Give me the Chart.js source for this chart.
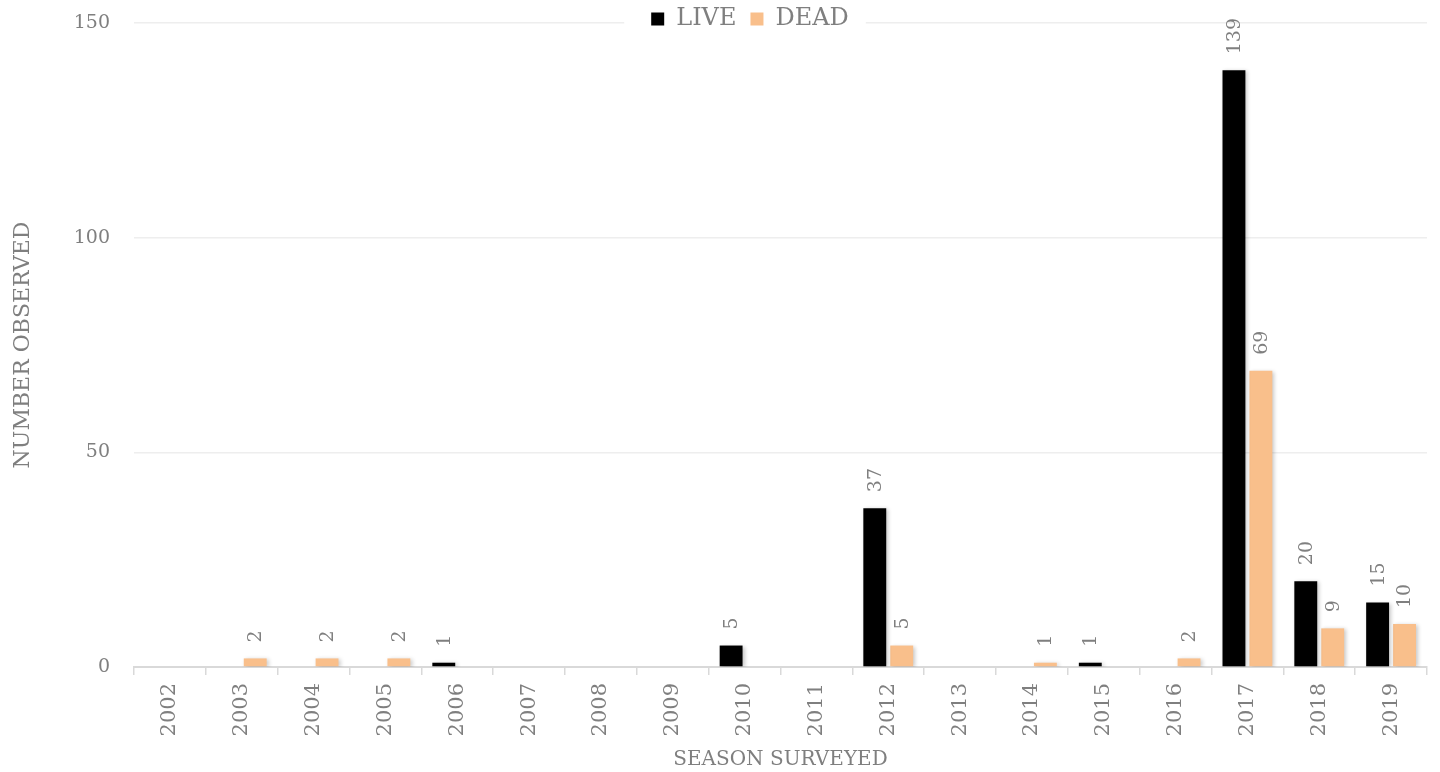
<!DOCTYPE html>
<html>
<head>
<meta charset="utf-8">
<script src="https://cdn.jsdelivr.net/npm/chart.js@4"></script>
<style>
html,body{margin:0;padding:0;background:#fff;}
#wrap{width:1440px;height:772px;position:relative;}
</style>
</head>
<body>
<div id="wrap"><canvas id="c" width="1440" height="772"></canvas></div>
<script>
const categories = ['2002','2003','2004','2005','2006','2007','2008','2009','2010','2011','2012','2013','2014','2015','2016','2017','2018','2019'];
const liveValues = [0,0,0,0,1,0,0,0,5,0,37,0,0,1,0,139,20,15];
const deadValues = [0,2,2,2,0,0,0,0,0,0,5,0,1,0,2,69,9,10];
const yTicks = [0,50,100,150];

const FONT = "'DejaVu Serif', serif";
const GRAY = '#7f7f7f';
const LEGEND_PAD = 14;
const LEGEND_FONT = 24;

const shadowPlugin = {
  id: 'barShadow',
  beforeDatasetDraw(chart) {
    const ctx = chart.ctx;
    ctx.save();
    ctx.shadowColor = 'rgba(0,0,0,0.22)';
    ctx.shadowBlur = 4;
    ctx.shadowOffsetX = 2;
    ctx.shadowOffsetY = 1;
  },
  afterDatasetDraw(chart) {
    chart.ctx.restore();
  }
};

const labelPlugin = {
  id: 'barLabels',
  afterDatasetsDraw(chart) {
    const ctx = chart.ctx;
    ctx.save();
    ctx.font = '19px ' + FONT;
    ctx.fillStyle = GRAY;
    ctx.textAlign = 'left';
    ctx.textBaseline = 'middle';
    chart.data.datasets.forEach((ds, di) => {
      const meta = chart.getDatasetMeta(di);
      meta.data.forEach((el, i) => {
        const v = ds.data[i];
        if (!v) return;
        ctx.save();
        ctx.translate(el.x + 1, el.y - 16);
        ctx.rotate(-Math.PI / 2);
        ctx.fillText(String(v), 0, 0);
        ctx.restore();
      });
    });
    ctx.restore();
  }
};

const legendPlugin = {
  id: 'legendMove',
  afterLayout(chart) {
    const lg = chart.legend;
    if (!lg) return;
    const h = lg.bottom - lg.top;
    const w = lg.right - lg.left;
    lg.top = 19 - LEGEND_PAD - LEGEND_FONT / 2;
    lg.bottom = lg.top + h;
    lg.left = 750 - w / 2;
    lg.right = lg.left + w;
  },
  afterDraw(chart) {
    const lg = chart.legend;
    if (!lg || !lg.lineWidths) return;
    const rowW = lg.lineWidths[0];
    const x0 = (lg.left + LEGEND_PAD + lg.right - rowW) / 2;
    const ctx = chart.ctx;
    ctx.save();
    ctx.fillStyle = '#fff';
    ctx.fillRect(x0 - 27, 4, rowW - LEGEND_PAD + 44, 30);
    ctx.restore();
    lg.draw();
  }
};

const chart = new Chart(document.getElementById('c'), {
  type: 'bar',
  data: {
    labels: categories,
    datasets: [
      { label: 'LIVE', data: liveValues, backgroundColor: '#000000', barPercentage: 0.85, categoryPercentage: 0.75 },
      { label: 'DEAD', data: deadValues, backgroundColor: '#f9bf8b', barPercentage: 0.85, categoryPercentage: 0.75 }
    ]
  },
  options: {
    responsive: false,
    animation: false,
    devicePixelRatio: 1,
    layout: { autoPadding: false, padding: { top: 23, right: 13, left: 0, bottom: 0 } },
    plugins: {
      legend: {
        position: 'chartArea',
        align: 'center',
        labels: {
          color: GRAY,
          font: { family: FONT, size: LEGEND_FONT },
          boxWidth: 13,
          boxHeight: 13,
          padding: LEGEND_PAD
        }
      },
      tooltip: { enabled: false }
    },
    scales: {
      x: {
        grid: { display: true, drawOnChartArea: false, drawTicks: true, tickLength: 8, color: '#d9d9d9', lineWidth: 1.5, offset: true },
        border: { display: true, color: '#d9d9d9', width: 2 },
        ticks: { color: GRAY, font: { family: FONT, size: 21 }, minRotation: 90, maxRotation: 90, padding: 8 },
        title: { display: true, text: 'SEASON SURVEYED', color: GRAY, font: { family: FONT, size: 20 }, padding: { top: 4, bottom: 0 } },
        afterFit(scale) { scale.height = 105; scale.paddingTop = 0; scale.paddingRight = 0; }
      },
      y: {
        min: 0, max: 150,
        afterBuildTicks(scale) { scale.ticks = yTicks.map(v => ({ value: v })); },
        grid: { color: '#eeeeee', lineWidth: 1.5, drawTicks: false },
        border: { display: false },
        ticks: { color: GRAY, font: { family: FONT, size: 19 }, padding: 24 },
        title: { display: true, text: 'NUMBER OBSERVED', color: GRAY, font: { family: FONT, size: 22 }, padding: { top: 10, bottom: 0 } },
        afterFit(scale) { scale.width = 134; scale.paddingTop = 0; scale.paddingBottom = 0; }
      }
    }
  },
  plugins: [shadowPlugin, labelPlugin, legendPlugin]
});
chart.legend.isHorizontal = function () { return true; };
chart.update();
</script>
</body>
</html>
